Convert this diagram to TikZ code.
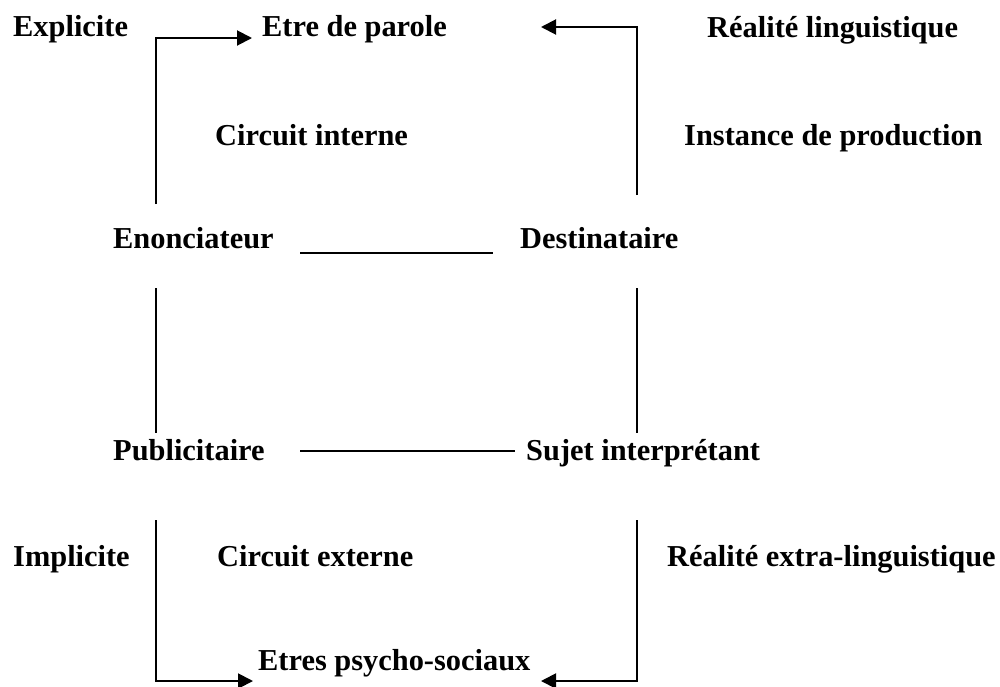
\documentclass[tikz,border=0pt]{standalone}
\usepackage{fontspec}
\setmainfont{Liberation Serif}
\usetikzlibrary{arrows.meta}
\begin{document}
\begin{tikzpicture}[x=1pt,y=-1pt,
  lbl/.style={anchor=base west,inner sep=0pt,font=\fontsize{30.4}{36}\selectfont\bfseries},
  ln/.style={line width=2pt},
  arr/.style={line width=2pt,-{Triangle[length=15pt,width=15pt]}}]
\useasboundingbox (0,0) rectangle (1000,686);
\node[lbl] (expl) at (13,36) {Explicite};
\node[lbl] (etre) at (262,36) {Etre de parole};
\node[lbl] (rl) at (707,37) {Réalité linguistique};
\node[lbl] (ci) at (215,145) {Circuit interne};
\node[lbl] (ip) at (684,145) {Instance de production};
\node[lbl] (enon) at (113,248) {Enonciateur};
\node[lbl] (dest) at (520,248) {Destinataire};
\node[lbl] (pub) at (113,460) {Publicitaire};
\node[lbl] (suj) at (526,460) {Sujet interprétant};
\node[lbl] (impl) at (13,566) {Implicite};
\node[lbl] (ce) at (217,566) {Circuit externe};
\node[lbl] (rel) at (667,566) {Réalité extra-linguistique};
\node[lbl] (eps) at (258,670) {Etres psycho-sociaux};
% coordinates
\coordinate (l1b) at (156,204);
\coordinate (l1t) at (156,38);
\coordinate (a1) at (252,38);
\coordinate (r1b) at (637,195);
\coordinate (r1t) at (637,27);
\coordinate (a2) at (541,27);
\coordinate (e1) at (300,253);
\coordinate (e2) at (493,253);
\coordinate (l2t) at (156,288);
\coordinate (l2b) at (156,433);
\coordinate (r2t) at (637,288);
\coordinate (r2b) at (637,433);
\coordinate (p1) at (300,451);
\coordinate (p2) at (515,451);
\coordinate (l3t) at (156,520);
\coordinate (l3b) at (156,681);
\coordinate (a3) at (253,681);
\coordinate (r3t) at (637,520);
\coordinate (r3b) at (637,681);
\coordinate (a4) at (541,681);
\draw[arr] (l1b) -- (l1t) -- (a1);
\draw[arr] (r1b) -- (r1t) -- (a2);
\draw[ln] (e1) -- (e2);
\draw[ln] (l2t) -- (l2b);
\draw[ln] (r2t) -- (r2b);
\draw[ln] (p1) -- (p2);
\draw[arr] (l3t) -- (l3b) -- (a3);
\draw[arr] (r3t) -- (r3b) -- (a4);
\end{tikzpicture}
\end{document}
